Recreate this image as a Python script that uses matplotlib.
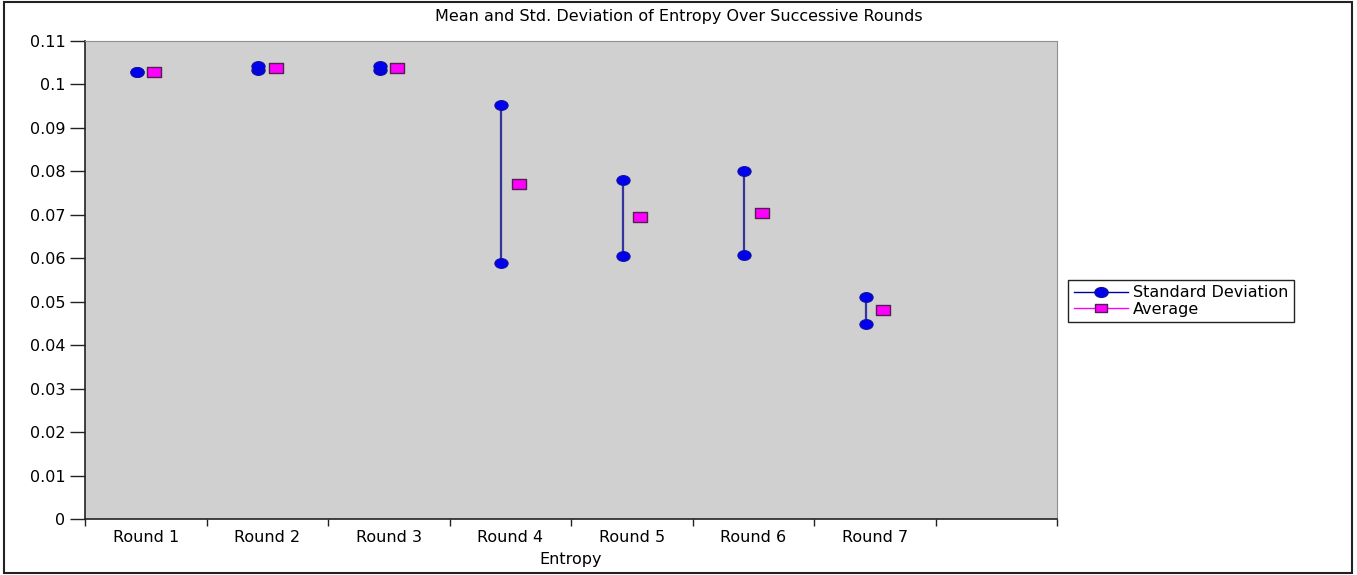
import matplotlib
matplotlib.use("Agg")
import matplotlib.pyplot as plt
from matplotlib.path import Path
from matplotlib.transforms import Affine2D
from matplotlib.lines import Line2D
from matplotlib.patches import Rectangle

rounds = ["Round 1", "Round 2", "Round 3", "Round 4", "Round 5", "Round 6", "Round 7"]
std_low = [0.1029, 0.1033, 0.1033, 0.0589, 0.0605, 0.0608, 0.0449]
std_high = [0.1029, 0.1042, 0.1042, 0.0953, 0.0780, 0.0801, 0.0511]
average = [0.1029, 0.1038, 0.1038, 0.0771, 0.0695, 0.0704, 0.0481]
n_slots = 8

plt.rcParams["font.family"] = "DejaVu Sans"
fs = 11.5

# wide ellipse and wide box markers
ellipse = Path.unit_circle().transformed(Affine2D().scale(1.35, 1.0))
box = Path([(-1.4, -1), (1.4, -1), (1.4, 1), (-1.4, 1), (-1.4, -1)],
           [Path.MOVETO, Path.LINETO, Path.LINETO, Path.LINETO, Path.CLOSEPOLY])

fig = plt.figure(figsize=(13.57, 5.75), dpi=100)
ax = fig.add_axes([85 / 1357, 1 - 519 / 575, 972 / 1357, 478 / 575])
ax.set_facecolor("#d0d0d0")

xs = list(range(len(rounds)))
sx = [x - 0.075 for x in xs]
avx = [x + 0.07 for x in xs]

ax.vlines(sx, std_low, std_high, color="#34349a", lw=1.6, zorder=2)
ax.plot(sx, std_low, ls="none", marker=ellipse, ms=9.5, mfc="#0000ee", mec="#1010a0", mew=0.8, zorder=3)
ax.plot(sx, std_high, ls="none", marker=ellipse, ms=9.5, mfc="#0000ee", mec="#1010a0", mew=0.8, zorder=3)
ax.plot(avx, average, ls="none", marker=box, ms=10, mfc="#ff00ff", mec="#502050", mew=1.0, zorder=3)

ax.set_xlim(-0.5, n_slots - 0.5)
ax.set_ylim(0, 0.11)
ax.set_yticks([i / 100 for i in range(12)])
ax.set_yticklabels(["0"] + [f"{i / 100:g}" for i in range(1, 12)])
ax.set_xticks([i - 0.5 for i in range(n_slots + 1)])
ax.set_xticklabels([])
ax.set_xticks(xs, minor=True)
ax.set_xticklabels(rounds, minor=True)
ax.tick_params(axis="x", which="minor", length=0, pad=8, labelsize=fs)
ax.tick_params(axis="x", which="major", length=5, width=1, color="#222222")
ax.tick_params(axis="y", length=11, width=1, labelsize=fs, pad=3, color="#222222")

for side in ("top", "right"):
    ax.spines[side].set_color("#909090")
for side in ("left", "bottom"):
    ax.spines[side].set_color("#222222")
    ax.spines[side].set_linewidth(1.2)

ax.set_xlabel("Entropy", fontsize=fs, labelpad=5)
fig.suptitle("Mean and Std. Deviation of Entropy Over Successive Rounds",
             x=0.5, y=1 - 17 / 575, va="center", fontsize=fs)

handles = [
    Line2D([], [], color="#0000aa", lw=1, marker=ellipse, ms=9.5, mfc="#0000ee", mec="#1010a0"),
    Line2D([], [], color="#ff00ff", lw=1, marker=box, ms=8.5, mfc="#ff00ff", mec="#502050"),
]
fig.legend(handles, ["Standard Deviation", "Average"], loc="center left",
           bbox_to_anchor=(1068 / 1357, 1 - 301 / 575), fontsize=fs,
           frameon=True, fancybox=False, edgecolor="#222222", framealpha=1,
           handlelength=3.4, handletextpad=0.3, labelspacing=0.1, borderpad=0.35,
           borderaxespad=0)

fig.patches.append(Rectangle((0.003, 0.004), 0.993, 0.992, transform=fig.transFigure,
                             fill=False, edgecolor="#222222", lw=1.5))

fig.savefig("out.png", dpi=100)
